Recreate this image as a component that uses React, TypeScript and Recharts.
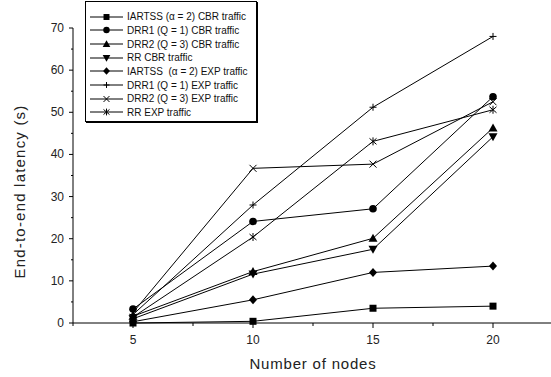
import React from "react";
import { LineChart, Line, XAxis, YAxis, Legend, Label } from "recharts";

const nodes = [5, 10, 15, 20];
const iartssCbr = [0, 0.4, 3.5, 4.0];
const drr1Cbr = [3.3, 24.1, 27.1, 53.7];
const drr2Cbr = [1.6, 12.2, 20.1, 46.3];
const rrCbr = [1.0, 11.6, 17.5, 44.2];
const iartssExp = [0.3, 5.5, 12.0, 13.5];
const drr1Exp = [2.0, 28.0, 51.2, 68.0];
const drr2Exp = [2.5, 36.7, 37.7, 52.5];
const rrExp = [1.4, 20.4, 43.1, 50.6];

const xTicks = [2.5, 5, 7.5, 10, 12.5, 15, 17.5, 20, 22.5];
const yTicks = [0, 5, 10, 15, 20, 25, 30, 35, 40, 45, 50, 55, 60, 65, 70];

const FONT = '"Liberation Sans", Arial, sans-serif';

type Shape = "square" | "circle" | "triUp" | "triDown" | "diamond" | "plus" | "cross" | "star";

const SERIES: { key: string; name: string; values: number[]; shape: Shape }[] = [
  { key: "iartssCbr", name: "IARTSS (\u03b1 = 2) CBR traffic", values: iartssCbr, shape: "square" },
  { key: "drr1Cbr", name: "DRR1 (Q = 1) CBR traffic", values: drr1Cbr, shape: "circle" },
  { key: "drr2Cbr", name: "DRR2 (Q = 3) CBR traffic", values: drr2Cbr, shape: "triUp" },
  { key: "rrCbr", name: "RR CBR traffic", values: rrCbr, shape: "triDown" },
  { key: "iartssExp", name: "IARTSS  (\u03b1 = 2) EXP traffic", values: iartssExp, shape: "diamond" },
  { key: "drr1Exp", name: "DRR1 (Q = 1) EXP traffic", values: drr1Exp, shape: "plus" },
  { key: "drr2Exp", name: "DRR2 (Q = 3) EXP traffic", values: drr2Exp, shape: "cross" },
  { key: "rrExp", name: "RR EXP traffic", values: rrExp, shape: "star" },
];

const rows = nodes.map((n, i) => {
  const r: Record<string, number> = { nodes: n };
  SERIES.forEach((s) => (r[s.key] = s.values[i]));
  return r;
});

function Marker({ cx, cy, shape, s = 1 }: { cx: number; cy: number; shape: Shape; s?: number }) {
  const k = (v: number) => v * s;
  switch (shape) {
    case "square":
      return <rect x={cx - k(3.5)} y={cy - k(3.5)} width={k(7)} height={k(7)} fill="#000" />;
    case "circle":
      return <circle cx={cx} cy={cy} r={k(3.8)} fill="#000" />;
    case "triUp":
      return <polygon points={`${cx},${cy - k(4.5)} ${cx + k(4.5)},${cy + k(3.5)} ${cx - k(4.5)},${cy + k(3.5)}`} fill="#000" />;
    case "triDown":
      return <polygon points={`${cx},${cy + k(4.5)} ${cx + k(4.5)},${cy - k(3.5)} ${cx - k(4.5)},${cy - k(3.5)}`} fill="#000" />;
    case "diamond":
      return <polygon points={`${cx},${cy - k(4.5)} ${cx + k(4)},${cy} ${cx},${cy + k(4.5)} ${cx - k(4)},${cy}`} fill="#000" />;
    case "plus":
      return <path d={`M${cx - k(3.5)},${cy}H${cx + k(3.5)}M${cx},${cy - k(3.5)}V${cy + k(3.5)}`} stroke="#000" strokeWidth={1} />;
    case "cross":
      return <path d={`M${cx - k(3.5)},${cy - k(3.5)}L${cx + k(3.5)},${cy + k(3.5)}M${cx + k(3.5)},${cy - k(3.5)}L${cx - k(3.5)},${cy + k(3.5)}`} stroke="#000" strokeWidth={1} />;
    case "star":
      return (
        <path
          d={`M${cx - k(3.5)},${cy - k(3)}L${cx + k(3.5)},${cy + k(3)}M${cx + k(3.5)},${cy - k(3)}L${cx - k(3.5)},${cy + k(3)}M${cx},${cy - k(4)}V${cy + k(4)}`}
          stroke="#000"
          strokeWidth={1}
        />
      );
  }
  return null;
}

const XTick = ({ x, y, payload }: any) => {
  const major = payload.value % 5 === 0;
  return (
    <g>
      <line x1={x} y1={y} x2={x} y2={y + (major ? 5 : 3)} stroke="#000" />
      {major && (
        <text x={x} y={y + 21} textAnchor="middle" fontSize={12} fontFamily={FONT} fill="#222">
          {payload.value}
        </text>
      )}
    </g>
  );
};

const YTick = ({ x, y, payload }: any) => {
  const major = payload.value % 10 === 0;
  return (
    <g>
      <line x1={x - (major ? 4 : 2)} y1={y} x2={x} y2={y} stroke="#000" />
      {major && (
        <text x={x - 9} y={y + 4} textAnchor="end" fontSize={12} fontFamily={FONT} fill="#222">
          {payload.value}
        </text>
      )}
    </g>
  );
};

const LegendBox = () => (
  <div
    style={{
      border: "1px solid #000",
      boxShadow: "1px 1px 0 #000",
      width: 172,
      height: 121,
      boxSizing: "border-box",
      padding: "8px 0 0 4px",
      background: "#fff",
      fontFamily: FONT,
      fontSize: 10,
      color: "#111",
    }}
  >
    {SERIES.map((s) => (
      <div key={s.key} style={{ display: "flex", alignItems: "center", height: 13.67 }}>
        <svg width={33} height={12} style={{ flex: "none" }}>
          <line x1={0} y1={6} x2={33} y2={6} stroke="#000" />
          <Marker cx={16.5} cy={6} shape={s.shape} s={0.85} />
        </svg>
        <span style={{ marginLeft: 4, whiteSpace: "pre" }}>{s.name}</span>
      </div>
    ))}
  </div>
);

export default function App() {
  return (
    <div style={{ position: "absolute", left: 0, top: 0, width: 551, height: 377, overflow: "hidden", background: "#fff" }}>
      <LineChart width={560} height={377} data={rows} margin={{ top: 28, right: 7, bottom: 0, left: 0 }}>
        <XAxis
          type="number"
          dataKey="nodes"
          domain={[2.5, 22.5]}
          ticks={xTicks}
          interval={0}
          allowDataOverflow
          height={54}
          tickSize={0}
          tickMargin={0}
          tickLine={false}
          tick={<XTick />}
          axisLine={{ stroke: "#000" }}
        >
          <Label
            content={({ viewBox }: any) => (
              <text
                x={viewBox.x + viewBox.width / 2}
                y={viewBox.y + viewBox.height - 8}
                textAnchor="middle"
                fontSize={15}
                letterSpacing={0.8}
                fontFamily={FONT}
                fill="#222"
              >
                Number of nodes
              </text>
            )}
          />
        </XAxis>
        <YAxis
          type="number"
          domain={[0, 70]}
          ticks={yTicks}
          interval={0}
          width={73}
          tickSize={0}
          tickMargin={0}
          tickLine={false}
          tick={<YTick />}
          axisLine={{ stroke: "#000" }}
        >
          <Label
            content={({ viewBox }: any) => {
              const cx = 25;
              const cy = viewBox.y + viewBox.height / 2 + 16;
              return (
                <text
                  x={cx}
                  y={cy}
                  transform={`rotate(-90 ${cx} ${cy})`}
                  textAnchor="middle"
                  fontSize={15}
                  letterSpacing={1.2}
                  fontFamily={FONT}
                  fill="#222"
                >
                  End-to-end latency (s)
                </text>
              );
            }}
          />
        </YAxis>
        <Legend
          layout="vertical"
          align="center"
          verticalAlign="middle"
          wrapperStyle={{ position: "absolute", left: 85, top: 1, width: "auto", height: "auto" }}
          content={() => <LegendBox />}
        />
        {SERIES.map((s) => (
          <Line
            key={s.key}
            type="linear"
            dataKey={s.key}
            name={s.name}
            stroke="#000"
            strokeWidth={1}
            isAnimationActive={false}
            dot={(p: any) => <Marker key={`${s.key}-${p.index}`} cx={p.cx} cy={p.cy} shape={s.shape} />}
            activeDot={false}
          />
        ))}
      </LineChart>
    </div>
  );
}
